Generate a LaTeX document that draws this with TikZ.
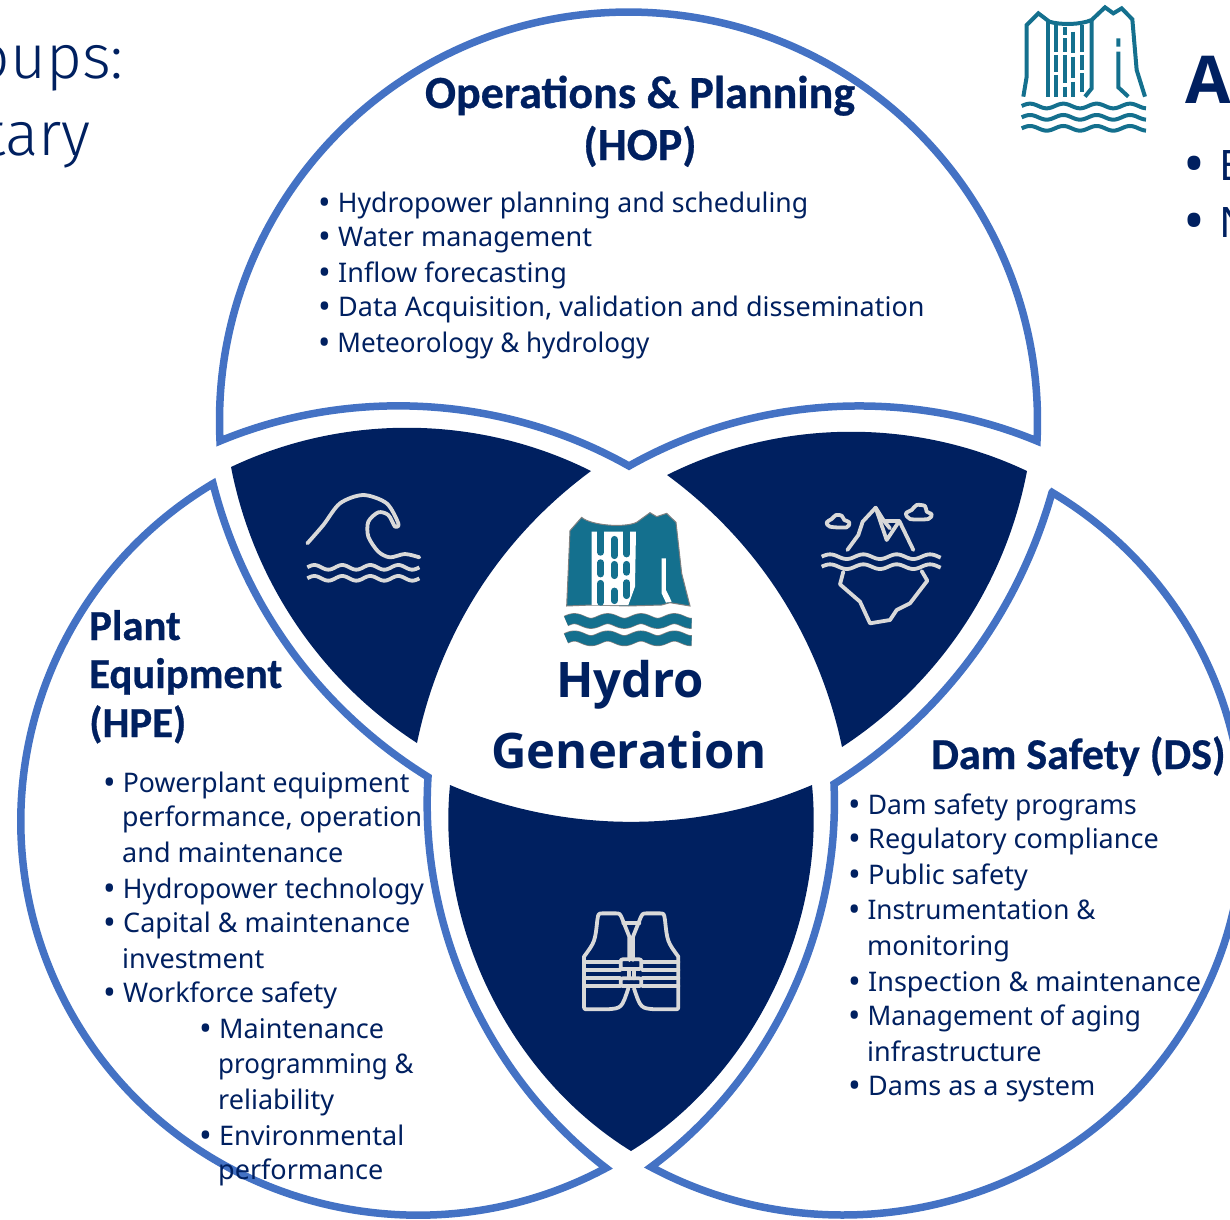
\documentclass[tikz,border=0pt]{standalone}
\usepackage{fontspec}
\setmainfont{Noto Sans}
\newfontfamily\headfam[BoldFeatures={FakeBold=0.6}]{Carlito}
\newfontfamily\hydrofam{Open Sans}
\newfontfamily\thinfam{Fira Sans Light}
\usetikzlibrary{positioning}
\definecolor{navy}{HTML}{002060}
\definecolor{ring}{HTML}{4472C4}
\definecolor{hydroteal}{HTML}{14708E}
\definecolor{icongrey}{HTML}{D9D9D9}
\newcommand{\bul}{\makebox[20pt][l]{\raisebox{-2.5pt}{\fontsize{34}{34}\selectfont•}}}
\newcommand{\wavy}[6]{\draw[#1] plot[domain=#2:#3, samples=70, smooth] (\x, {#4+#5*sin(360/#6*(\x-#2))});}
\tikzstyle{petal} = [draw=ring, line width=7.5pt, fill=white, miter limit=20]
\tikzstyle{lens} = [fill=navy]
\tikzstyle{arcside} = [looseness=0.89]
\tikzstyle{iconline} = [draw=icongrey, line width=3.8pt, line join=round, line cap=round]
\tikzstyle{tealline} = [draw=hydroteal, line width=4pt]
\tikzstyle{head} = [inner sep=0, text=navy, font=\headfam\bfseries\fontsize{42.7}{42.7}\selectfont]
\tikzstyle{hydro} = [inner sep=0, anchor=base, text=navy, font=\hydrofam\bfseries\fontsize{49}{49}\selectfont]
\tikzstyle{line} = [inner sep=0, anchor=base west, text=navy, font=\fontsize{27}{27}\selectfont]
\tikzstyle{thin} = [inner sep=0, anchor=base east, text=navy, font=\thinfam\fontsize{62}{62}\selectfont]

\begin{document}
\begin{tikzpicture}[x=1pt, y=1pt]
	\useasboundingbox (0, 0) rectangle (1230, -1219);
	\clip (0, 0) rectangle (1230, -1219);

	% petal corners
	\coordinate (TopL) at (220, -441);
	\coordinate (TopR) at (1038, -441);
	\coordinate (TopMid) at (629, -466);
	\coordinate (PlantTop) at (213, -483.6);
	\coordinate (PlantRight) at (428, -777);
	\coordinate (PlantLow) at (606, -1168);
	\coordinate (DamTop) at (1052, -492.5);
	\coordinate (DamLeft) at (834, -784);
	\coordinate (DamLow) at (651, -1167);

	% three petals
	\draw [petal, arcside] (TopL) arc[start angle=182.8, end angle=-2.8, radius=409]
		to[bend right=26] (TopMid) to[bend right=26] (TopL) -- cycle;
	\draw [petal, arcside] (PlantTop) to[bend right=22] (PlantRight) to[bend right=28] (PlantLow)
		arc[start angle=-61.7, end angle=-238.9, x radius=397, y radius=394] -- cycle;
	\draw [petal, arcside] (DamTop) to[bend left=21] (DamLeft) to[bend left=28] (DamLow)
		arc[start angle=241.3, end angle=418.5, x radius=400, y radius=390] -- cycle;

	% dark lenses
	\coordinate (WaveL) at (231, -467);
	\coordinate (WaveR) at (591, -471);
	\coordinate (WaveLow) at (417, -743);
	\fill [lens, arcside] (WaveL) to[bend left=26] (WaveR) to[bend right=21] (WaveLow) to[bend left=23] (WaveL) -- cycle;

	\coordinate (IceL) at (667, -475);
	\coordinate (IceR) at (1027, -471);
	\coordinate (IceLow) at (842, -747);
	\fill [lens, arcside] (IceL) to[bend left=26] (IceR) to[bend left=23] (IceLow) to[bend right=21] (IceL) -- cycle;

	\coordinate (VestL) at (450, -785);
	\coordinate (VestR) at (812, -785);
	\coordinate (VestLow) at (631, -1151);
	\fill [lens, arcside] (VestL) to[bend right=23] (VestR) to[bend left=32] (VestLow) to[bend left=32] (VestL) -- cycle;

	% wave icon
	\begin{scope}[shift={(290, -480)}, x=0.3333pt, y=-0.3333pt]
		\draw [iconline] plot[smooth] coordinates {(52,190) (100,135) (150,70) (220,45) (290,70) (325,130) (315,140) (295,105) (265,97) (235,125) (235,170) (265,215) (300,232) (345,222) (388,232)};
		\wavy{iconline, line cap=butt}{52}{388}{262}{-7}{84}
		\wavy{iconline, line cap=butt}{52}{388}{295}{-7}{84}
	\end{scope}

	% iceberg icon
	\begin{scope}[shift={(810, -495)}, x=0.3333pt, y=-0.3333pt]
		\draw [iconline] (112,165) -- (145,120) -- (158,80) -- (197,38) -- (230,135) -- (268,78) -- (310,165);
		\draw [iconline] (197,38) -- (222,78) -- (268,78);
		\draw [iconline] (222,78) -- (240,100);
		\draw [iconline] (100,230) -- (90,268) -- (150,320) -- (180,385) -- (240,375) -- (260,345) -- (300,325) -- (352,257) -- (335,228);
		\draw [iconline] plot[smooth cycle] coordinates {(60,95) (50,82) (65,72) (78,60) (95,62) (103,75) (118,82) (110,97)};
		\draw [iconline] plot[smooth cycle] coordinates {(300,72) (288,55) (305,45) (320,30) (345,33) (350,50) (365,58) (355,72)};
		\wavy{iconline, line cap=butt}{35}{392}{185}{-7}{100}
		\wavy{iconline, line cap=butt}{35}{392}{215}{-7}{100}
	\end{scope}

	% vest icon
	\begin{scope}[shift={(570, -900)}, x=0.3333pt, y=-0.3333pt]
		\draw [iconline] (178,180) -- (178,110) -- (158,60) .. controls (150,40) .. (135,40) -- (100,40) .. controls (85,40) .. (82,60) .. controls (75,125) .. (42,170) -- (42,315) .. controls (42,328) .. (55,328) -- (110,328) .. controls (155,325) .. (175,265);
		\draw [iconline] (189,180) -- (189,110) -- (209,60) .. controls (217,40) .. (232,40) -- (267,40) .. controls (282,40) .. (285,60) .. controls (292,125) .. (325,170) -- (325,315) .. controls (325,328) .. (312,328) -- (257,328) .. controls (212,325) .. (192,265);
		\draw [iconline] (160,70) -- (208,70);
		\draw [iconline] (42,185) -- (150,185) (42,210) -- (150,210) (42,235) -- (150,235) (42,258) -- (150,258);
		\draw [iconline] (218,185) -- (325,185) (218,210) -- (325,210) (218,235) -- (325,235) (218,258) -- (325,258);
		\draw [iconline, rounded corners=2pt] (152,178) rectangle (214,207);
		\draw [iconline, rounded corners=2pt] (152,235) rectangle (214,258);
		\draw [iconline] (176,207) -- (176,235) (191,207) -- (191,235);
	\end{scope}

	% filled logo
	\begin{scope}[shift={(540, -490)}, x=0.3333pt, y=-0.3333pt]
		\draw [draw=gray, fill=hydroteal, line width=1pt] (80,348) -- (90,122) -- (125,82) .. controls (150,105) and (250,115) .. (290,97) -- (330,68) -- (350,80) -- (380,70) -- (408,97) -- (425,250) -- (450,348) -- (390,338) -- (365,345) -- (265,348) -- (155,345) -- cycle;
		\fill [white] (155,125) -- (288,125) -- (285,290) -- (265,345) -- (155,345) -- cycle;
		\fill [white] (365,205) -- (378,205) -- (378,300) -- (395,335) -- (378,338) -- (365,310) -- cycle;
		\foreach \px/\pa/\pb in {182/112/195, 182/210/260, 182/272/345, 223/140/205, 223/215/265, 223/295/340, 260/112/200, 260/215/255, 260/270/325}
			\draw [hydroteal, line width=6.8pt, line cap=round] (\px,\pa+8) -- (\px,\pb-8);
		\wavy{draw=gray, line width=11pt}{78}{455}{393}{-7}{100}
		\wavy{draw=gray, line width=11pt}{78}{455}{445}{-7}{100}
		\wavy{draw=hydroteal, line width=9.6pt}{78.5}{454.5}{393}{-7}{100}
		\wavy{draw=hydroteal, line width=9.6pt}{78.5}{454.5}{445}{-7}{100}
	\end{scope}

	% outline logo
	\begin{scope}[shift={(1010, 0)}, x=0.3333pt, y=-0.3333pt]
		\draw [tealline] (40,290) -- (50,230) -- (50,75) -- (85,40) -- (118,65) .. controls (150,75) and (210,75) .. (245,60) -- (285,22) -- (310,40) -- (335,25) -- (367,58) -- (380,210) -- (405,290);
		\draw [tealline] (115,65) -- (115,290) (138,75) -- (138,155) (138,165) -- (138,215) (138,225) -- (138,290);
		\draw [tealline] (165,80) -- (165,105) (165,115) -- (165,155) (165,165) -- (165,250) (165,260) -- (165,290);
		\draw [tealline] (190,95) -- (190,160) (190,170) -- (190,235) (190,245) -- (190,290);
		\draw [tealline] (217,75) -- (217,155) (217,165) -- (217,210) (217,220) -- (217,275);
		\draw [tealline] (245,60) -- (245,265) -- (225,290);
		\draw [tealline] (325,115) -- (325,140) (325,155) -- (325,262) -- (355,290);
		\wavy{draw=hydroteal, line width=4pt}{35}{408}{318}{-7}{100}
		\wavy{draw=hydroteal, line width=4pt}{35}{408}{352}{-7}{100}
		\wavy{draw=hydroteal, line width=4pt}{35}{408}{385}{-7}{100}
	\end{scope}

	% cut off text at the edges
	\node (Groups) [thin] at (124, -78) {oups:};
	\node (Tary) [thin] at (91, -155) {tary};
	\node (RightHead) [line, font=\hydrofam\bfseries\fontsize{66}{66}\selectfont] at (1185, -103) {A};
	\node (RightE) [line, font=\fontsize{42}{42}\selectfont] at (1183, -180) {\makebox[36pt][l]{\raisebox{-4pt}{\fontsize{58}{58}\selectfont•}}E};
	\node (RightN) [line, font=\fontsize{42}{42}\selectfont] at (1183, -237) {\makebox[36pt][l]{\raisebox{-4pt}{\fontsize{58}{58}\selectfont•}}N};

	% operations and planning
	\node (HopTitle) [head, anchor=base, font=\headfam\bfseries\fontsize{46}{46}\selectfont] at (640, -108) {Operations \& Planning};
	\node (HopCode) [head, anchor=base, font=\headfam\bfseries\fontsize{46}{46}\selectfont] at (640, -160) {(HOP)};
	\node (HopA) [line, xscale=0.985] at (318, -212) {\bul Hydropower planning and scheduling};
	\node (HopB) [line] at (318, -246) {\bul Water management};
	\node (HopC) [line] at (318, -282) {\bul Inflow forecasting};
	\node (HopD) [line] at (318, -316) {\bul Data Acquisition, validation and dissemination};
	\node (HopE) [line, xscale=0.965] at (318, -352) {\bul Meteorology \& hydrology};

	% plant equipment
	\node (PlantA) [head, anchor=base west] at (89, -640) {Plant};
	\node (PlantB) [head, anchor=base west] at (89, -688) {Equipment};
	\node (PlantC) [head, anchor=base west] at (89, -737) {(HPE)};
	\node (PlantL1) [line, xscale=0.985] at (103, -792) {\bul Powerplant equipment};
	\node (PlantL2) [line, xscale=0.99] at (122, -826) {performance, operation};
	\node (PlantL3) [line] at (122, -862) {and maintenance};
	\node (PlantL4) [line, xscale=0.985] at (103, -898) {\bul Hydropower technology};
	\node (PlantL5) [line] at (103, -932) {\bul Capital \& maintenance};
	\node (PlantL6) [line] at (122, -968) {investment};
	\node (PlantL7) [line] at (103, -1002) {\bul Workforce safety};
	\node (PlantL8) [line] at (199, -1038) {\bul Maintenance};
	\node (PlantL9) [line, xscale=0.96] at (218, -1073) {programming \&};
	\node (PlantL10) [line] at (218, -1109) {reliability};
	\node (PlantL11) [line] at (199, -1145) {\bul Environmental};
	\node (PlantL12) [line] at (218, -1179) {performance};

	% dam safety
	\node (DamTitle) [head, anchor=base west, font=\headfam\bfseries\fontsize{44}{44}\selectfont] at (931, -769) {Dam Safety (DS)};
	\node (DamL1) [line, xscale=0.98] at (848, -814) {\bul Dam safety programs};
	\node (DamL2) [line] at (848, -848) {\bul Regulatory compliance};
	\node (DamL3) [line] at (848, -884) {\bul Public safety};
	\node (DamL4) [line, xscale=0.97] at (848, -919) {\bul Instrumentation \&};
	\node (DamL5) [line] at (867, -955) {monitoring};
	\node (DamL6) [line] at (848, -991) {\bul Inspection \& maintenance};
	\node (DamL7) [line, xscale=0.97] at (848, -1025) {\bul Management of aging};
	\node (DamL8) [line] at (867, -1061) {infrastructure};
	\node (DamL9) [line] at (848, -1095) {\bul Dams as a system};

	% hydro generation
	\node (HydroA) [hydro] at (630, -697) {Hydro};
	\node (HydroB) [hydro] at (629, -768.5) {Generation};
\end{tikzpicture}
\end{document}
